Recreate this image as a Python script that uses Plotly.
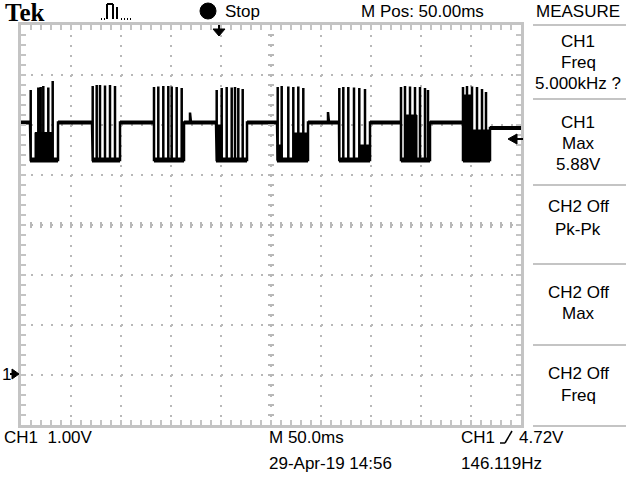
import plotly.graph_objects as go

# ---------------- data ----------------
# time in ms (0..500 across 10 divisions of 50 ms), voltage in V (1 V/div, ground one div above bottom)
baseline_v = 5.05
low_v = 4.30
end_level_v = 4.94
trigger_level_v = 4.72

burst_start = [9, 71, 133, 195, 256, 318, 380, 442]
burst_end = [37, 99, 163, 226, 287, 349, 409, 469]
spike_times = [
    [9.7, 17.3, 19.7, 22.3, 27.3, 31.7],
    [71.7, 75.7, 79.0, 84.0, 89.0, 94.0],
    [133.0, 137.3, 142.3, 147.3, 150.7, 155.7, 160.7],
    [195.7, 200.7, 205.7, 210.7, 214.0, 217.3, 221.7],
    [256.7, 260.7, 267.3, 272.3, 277.3, 282.3],
    [318.3, 322.3, 327.3, 333.0, 338.3, 344.0],
    [380.0, 384.0, 389.0, 394.0, 399.0, 404.0, 407.0],
    [442.0, 446.0, 451.0, 456.0, 461.0, 465.0],
]
spike_peaks = [
    [5.70, 5.75, 5.76, 5.78, 5.75, 5.88],
    [5.78, 5.80, 5.80, 5.79, 5.80, 5.78],
    [5.76, 5.77, 5.78, 5.78, 5.77, 5.76, 5.74],
    [5.70, 5.74, 5.76, 5.75, 5.76, 5.74, 5.72],
    [5.76, 5.78, 5.77, 5.76, 5.77, 5.74],
    [5.74, 5.76, 5.76, 5.75, 5.74, 5.72],
    [5.76, 5.78, 5.77, 5.76, 5.76, 5.74, 5.70],
    [5.76, 5.78, 5.77, 5.76, 5.72, 5.66],
]
# dense (smeared) regions inside bursts: start ms, end ms, top V (they reach down to the low level)
dense_t0 = [14, 196, 256, 273, 339, 384, 442, 452]
dense_t1 = [31, 201, 261, 286, 348, 396, 451, 468]
dense_top = [4.85, 5.00, 4.60, 4.84, 4.60, 5.20, 5.60, 4.90]
bump_times = [169, 307]
bump_peaks = [5.25, 5.26]

measure_rows = [
    ["CH1", "Freq", "5.000kHz ?"],
    ["CH1", "Max", "5.88V"],
    ["CH2 Off", "Pk-Pk"],
    ["CH2 Off", "Max"],
    ["CH2 Off", "Freq"],
]

# ---------------- build waveform from the data ----------------
wx, wy = [0], [baseline_v]
base_x, base_y = [0], [baseline_v]
low_x, low_y = [], []
bump_i = 0
for i, (s, e) in enumerate(zip(burst_start, burst_end)):
    while bump_i < len(bump_times) and bump_times[bump_i] < s:
        bt = bump_times[bump_i]
        wx += [bt, bt, bt + 1]
        wy += [baseline_v, bump_peaks[bump_i], baseline_v]
        bump_i += 1
    wx += [s]
    wy += [baseline_v]
    base_x += [s, None]
    base_y += [baseline_v, None]
    for t, p in zip(spike_times[i], spike_peaks[i]):
        wx += [t, t, t]
        wy += [low_v, p, low_v]
    last = i == len(burst_start) - 1
    wx += [e, e]
    wy += [low_v, end_level_v if last else baseline_v]
    low_x += [s, e, None]
    low_y += [low_v, low_v, None]
    if last:
        base_x += [e, 500]
        base_y += [end_level_v, end_level_v]
    else:
        base_x += [e]
        base_y += [baseline_v]
wx += [500]
wy += [end_level_v]

dx, dy = [], []
for a, b, top in zip(dense_t0, dense_t1, dense_top):
    dx += [a, a, b, b, a, None]
    dy += [low_v, top, top, low_v, low_v, None]

# ---------------- pixel helpers for furniture ----------------
L, R, T, B = 21, 521, 25, 425
def PX(x):
    return (x - L) / (R - L)
def PY(y):
    return (B - y) / (B - T)

fig = go.Figure()
fig.add_trace(go.Scatter(x=dx, y=dy, mode="lines", fill="toself", fillcolor="black",
                         line=dict(color="black", width=1), hoverinfo="skip", showlegend=False))
fig.add_trace(go.Scatter(x=low_x, y=low_y, mode="lines",
                         line=dict(color="black", width=5), hoverinfo="skip", showlegend=False))
fig.add_trace(go.Scatter(x=base_x, y=base_y, mode="lines",
                         line=dict(color="black", width=4), hoverinfo="skip", showlegend=False))
fig.add_trace(go.Scatter(x=wx, y=wy, mode="lines",
                         line=dict(color="black", width=2.5), hoverinfo="skip", showlegend=False))

grid_col = "#b8b8b8"
axis_common = dict(showgrid=True, gridcolor=grid_col, gridwidth=2, griddash="2px,8px",
                   zeroline=False, showline=True, linecolor="#c4c4c4", linewidth=3,
                   mirror="ticks", ticks="inside", ticklen=5, tickwidth=2, tickcolor="#c4c4c4",
                   showticklabels=False, fixedrange=True,
                   minor=dict(ticks="inside", ticklen=5, tickwidth=2, tickcolor="#c4c4c4", showgrid=False))
fig.update_xaxes(range=[0, 500], dtick=50, minor_dtick=10, **axis_common)
fig.update_yaxes(range=[-1, 7], dtick=1, minor_dtick=0.2, **axis_common)

FONT = "Liberation Sans"
ann = []
def txt(s, x, y, size=16, anchor="left", family=FONT, bold=False):
    ann.append(dict(text=("<b>%s</b>" % s) if bold else s, x=PX(x), y=PY(y), xref="paper", yref="paper",
                    xanchor=anchor, yanchor="middle", showarrow=False,
                    font=dict(family=family, size=size, color="black")))

txt("Tek", 3, 12, size=25, family="Liberation Serif", bold=True)
txt("Stop", 223, 11, size=17)
txt("M Pos: 50.00ms", 359, 11, size=17)
txt("MEASURE", 578, 11, size=17, anchor="center")
txt("1", 6, 374, size=17, anchor="center")
txt("CH1  1.00V", 2, 437, size=17)
txt("M 50.0ms", 267, 437, size=17)
txt("CH1", 459, 437, size=17)
txt("4.72V", 517, 437, size=17)
txt("29-Apr-19 14:56", 267, 464, size=17)
txt("146.119Hz", 459, 464, size=17)

row_y = [[41, 62, 83], [122, 143, 164], [207, 229], [292, 314], [373, 395]]
for rows, ys in zip(measure_rows, row_y):
    for s, y in zip(rows, ys):
        txt(s, 578, y, size=17, anchor="center")

shapes = []
def seg(x0, y0, x1, y1, color, width):
    shapes.append(dict(type="line", xref="paper", yref="paper", x0=PX(x0), y0=PY(y0), x1=PX(x1), y1=PY(y1),
                       line=dict(color=color, width=width)))
def poly(points, color="black"):
    d = "M " + " L ".join("%f,%f" % (PX(a), PY(b)) for a, b in points) + " Z"
    shapes.append(dict(type="path", xref="paper", yref="paper", path=d,
                       fillcolor=color, line=dict(color=color, width=1)))

# centre cross-hair tick marks of the graticule
cx, cy = (L + R) / 2, (T + B) / 2
for k in range(1, 40):
    yy = T + k * 10
    seg(cx - 3, yy, cx + 3, yy, grid_col, 2)
for k in range(1, 50):
    xx = L + k * 10
    seg(xx, cy - 3, xx, cy + 3, grid_col, 2)

for y in [25, 99, 185, 264, 345, 426]:
    seg(533, y, 626, y, "#c4c4c4", 2)

shapes.append(dict(type="circle", xref="paper", yref="paper", x0=PX(200), x1=PX(216), y0=PY(3), y1=PY(19),
                   fillcolor="black", line=dict(color="black", width=1)))
for xd in [101, 104]:
    seg(xd, 19, xd + 1, 19, "black", 2)
seg(107, 19, 107, 4, "black", 2)
seg(107, 4, 113, 4, "black", 2)
seg(113, 4, 113, 19, "black", 2)
seg(117, 7, 117, 19, "black", 2)
for xd in [121, 124, 127, 130]:
    seg(xd, 19, xd + 1, 19, "black", 2)
seg(219, 25, 219, 30, "black", 2)
poly([(213, 29), (225, 29), (219, 36)])
tl_y = 375 - trigger_level_v * 50
seg(515, tl_y, 523, tl_y, "black", 2)
poly([(508, tl_y), (517, tl_y - 5), (517, tl_y + 5)])
poly([(19, 374), (12, 369), (12, 379)])
seg(10, 374, 13, 374, "black", 2)
# rising-edge symbol in trigger readout
seg(500, 443, 505, 443, "#000000", 1.5)
seg(505, 443, 512, 431, "#000000", 1.5)

fig.update_layout(width=640, height=480, autosize=False,
                  margin=dict(l=L, r=640 - R, t=T, b=480 - B, pad=0),
                  paper_bgcolor="white", plot_bgcolor="white",
                  showlegend=False, annotations=ann, shapes=shapes)

fig.write_html("out.html", config={"displayModeBar": False, "staticPlot": True},
               post_script="document.body.style.margin='0';document.body.style.padding='0';")
